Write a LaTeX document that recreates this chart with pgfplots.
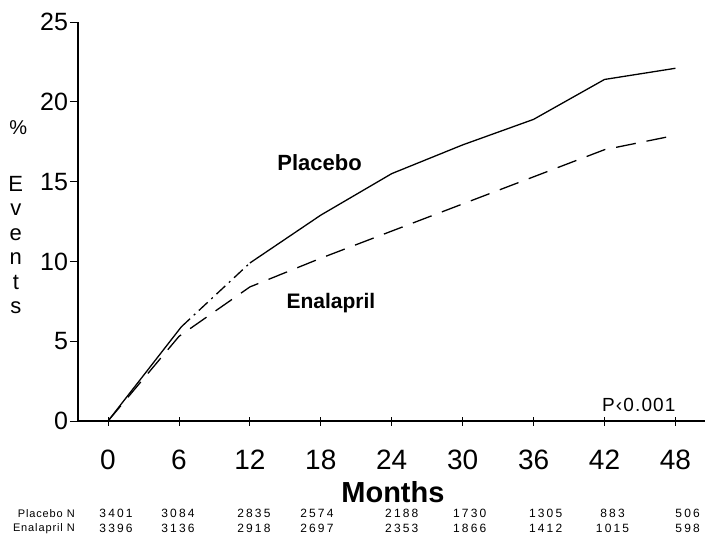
\documentclass[border=0pt]{standalone}
\usepackage{fontspec}
\setmainfont{Liberation Sans}
\usepackage{pgfplots}
\pgfplotsset{compat=1.18}
\tikzset{nnum/.style={font=\fontsize{12}{14}\selectfont\addfontfeature{LetterSpace=18}, inner sep=0pt}}
\begin{document}
\begin{tikzpicture}[x=1pt,y=1pt]
\useasboundingbox (-78,-120) rectangle (629,421);
\begin{axis}[
  at={(0,0)}, anchor=south west,
  scale only axis, width=627pt, height=399pt,
  xmin=-2.54, xmax=50.5, ymin=0, ymax=25,
  axis lines=left, axis line style={-, line width=1.6pt},
  xtick={0,6,...,48}, ytick={0,5,...,25},
  tick align=center, major tick length=9pt,
  tick style={line width=0.8pt, black},
  ytick style={xshift=-3.5pt},
  /pgf/number format/assume math mode=true,
  xticklabel style={font=\fontsize{28}{32}\selectfont, yshift=-21pt},
  yticklabel style={font=\fontsize{25}{30}\selectfont, xshift=-2pt},
  clip=false,
]
% Placebo (solid, with dash-dot stretch between 6 and 12 months)
\addplot[black, line width=1.3pt] coordinates {(0,0) (6.2,5.9)};
\addplot[black, line width=1.3pt, dash pattern=on 12pt off 5pt on 2pt off 5pt] coordinates {(6.2,5.9) (12,9.9)};
\addplot[black, line width=1.3pt] coordinates {(12,9.9) (18,12.9) (24,15.5) (30,17.3) (36,18.9) (42,21.4) (48,22.1)};
% Enalapril (dashed)
\addplot[black, line width=1.3pt, dash pattern=on 20pt off 11pt] coordinates {(0,0) (6,5.3) (12,8.4) (18,10.2) (24,11.9) (30,13.6) (36,15.3) (42,17.0) (48,17.9)};

\node[font=\fontsize{22}{26}\selectfont\bfseries] at (axis cs:17.9,16.2) {Placebo};
\node[font=\fontsize{21}{26}\selectfont\bfseries] at (axis cs:18.85,7.4) {Enalapril};
\node[font=\fontsize{19}{24}\selectfont\addfontfeature{LetterSpace=6}] at (axis cs:44.9,1.0) {P‹0.001};
\node[font=\fontsize{29}{34}\selectfont\bfseries, inner sep=0pt, anchor=base] at (axis cs:24.1,-5.12) {Months};

\node[font=\fontsize{20}{24}\selectfont] at (axis cs:-7.6,18.36) {\%};
\node[font=\fontsize{22}{24.5}\selectfont, align=center, inner sep=0pt] at (axis cs:-7.8,11.03) {E\\v\\e\\n\\t\\s};

\node[anchor=east, font=\fontsize{11}{13}\selectfont\addfontfeature{LetterSpace=8}, inner sep=0pt] at (axis cs:-2.8,-5.78) {Placebo N};
\node[anchor=east, font=\fontsize{11}{13}\selectfont\addfontfeature{LetterSpace=8}, inner sep=0pt] at (axis cs:-2.8,-6.72) {Enalapril N};

\node[nnum] at (axis cs:0.68,-5.78) {3401};  \node[nnum] at (axis cs:0.68,-6.72) {3396};
\node[nnum] at (axis cs:5.92,-5.78) {3084};  \node[nnum] at (axis cs:5.92,-6.72) {3136};
\node[nnum] at (axis cs:12.34,-5.78) {2835}; \node[nnum] at (axis cs:12.34,-6.72) {2918};
\node[nnum] at (axis cs:17.67,-5.78) {2574}; \node[nnum] at (axis cs:17.67,-6.72) {2697};
\node[nnum] at (axis cs:24.85,-5.78) {2188}; \node[nnum] at (axis cs:24.85,-6.72) {2353};
\node[nnum] at (axis cs:30.6,-5.78) {1730};  \node[nnum] at (axis cs:30.6,-6.72) {1866};
\node[nnum] at (axis cs:37.02,-5.78) {1305}; \node[nnum] at (axis cs:37.02,-6.72) {1412};
\node[nnum] at (axis cs:42.68,-5.78) {883};  \node[nnum] at (axis cs:42.68,-6.72) {1015};
\node[nnum] at (axis cs:49.03,-5.78) {506};  \node[nnum] at (axis cs:49.03,-6.72) {598};
\end{axis}
\end{tikzpicture}
\end{document}
